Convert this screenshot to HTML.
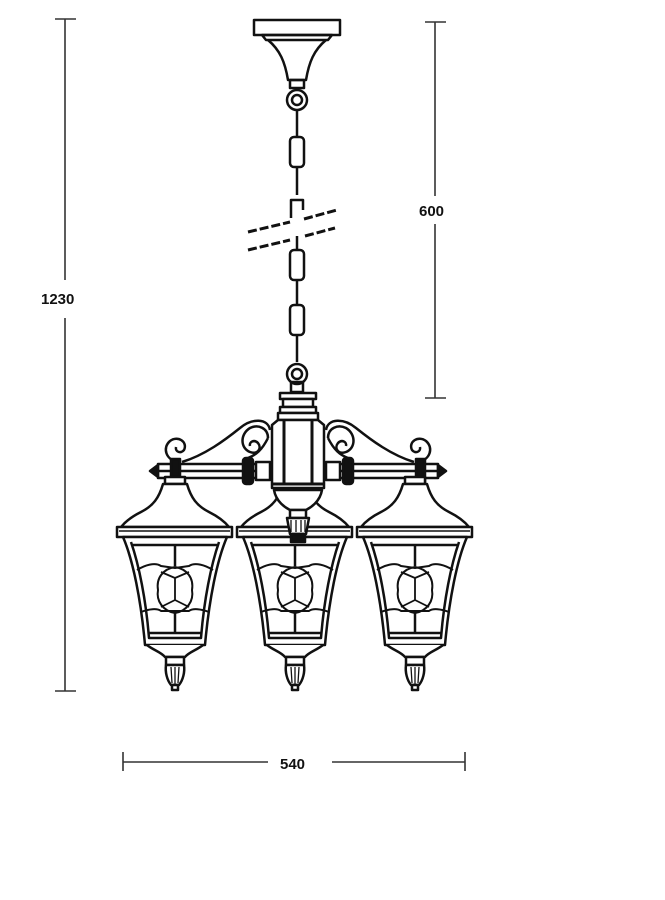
<!DOCTYPE html>
<html><head><meta charset="utf-8"><style>
html,body{margin:0;padding:0;background:#fff;}
svg{display:block}
text{font-family:"Liberation Sans",sans-serif;font-weight:bold;font-size:15px;fill:#111}
</style></head><body>
<svg width="665" height="900" viewBox="0 0 665 900" xmlns="http://www.w3.org/2000/svg">
<defs>
<g id="lan" fill="none" stroke="#111" stroke-width="2.5" stroke-linejoin="round">
  <rect x="-10" y="477" width="20" height="7" fill="#fff"/>
  <path d="M-12 484 C-16 498 -22 506 -34 512 C-44 517 -50 522 -54 527 L54 527 C50 522 44 517 34 512 C22 506 16 498 12 484 Z" fill="#fff"/>
  <rect x="-58" y="527" width="115" height="10" fill="#fff"/>
  <line x1="-56" y1="531" x2="55" y2="531" stroke-width="1.4"/>
  <path d="M-52 537 C-42 560 -34 600 -30 645 L30 645 C34 600 42 560 52 537 Z" fill="#fff"/>
  <path d="M-44 542 C-36 565 -29 600 -26 638 L26 638 C29 600 36 565 44 542"/>
  <line x1="-42" y1="545" x2="42" y2="545"/>
  <line x1="-26" y1="633" x2="26" y2="633"/>
  <line x1="0" y1="545" x2="0" y2="566"/>
  <path d="M-38 570 C-30 565 -20 562 -14 566 L0 568 L14 566 C20 562 30 565 38 570" stroke-width="2"/>
  <path d="M-34 612 C-26 609 -18 608 -14 611 L14 611 C18 608 26 609 34 612" stroke-width="2"/>
  <path d="M0 567 C-12 569 -19 578 -17 590 C-19 601 -12 611 0 613 C12 611 19 601 17 590 C19 578 12 569 0 567 Z" stroke-width="2"/>
  <path d="M0 578 L-14 572 M0 578 L14 572 M0 578 L0 600 L-14 607 M0 600 L14 607" stroke-width="1.8"/>
  <line x1="0" y1="613" x2="0" y2="633"/>
  <path d="M-28 645 C-22 650 -14 652 -10 657 L10 657 C14 652 22 650 28 645" fill="#fff"/>
  <rect x="-9" y="657" width="18" height="8" fill="#fff"/>
  <path d="M-9 665 C-10 672 -8 680 -4 685 L4 685 C8 680 10 672 9 665 Z" fill="#fff"/>
  <path d="M-4 667 L-3 683 M0 667 L0 684 M4 667 L3 683" stroke-width="1.3"/>
  <rect x="-3" y="685" width="6" height="5" fill="#fff"/>
</g>
</defs>

<g stroke="#333" stroke-width="1.6" fill="none">
  <line x1="55" y1="19" x2="76" y2="19"/>
  <line x1="65" y1="19" x2="65" y2="280"/>
  <line x1="65" y1="318" x2="65" y2="691"/>
  <line x1="55" y1="691" x2="76" y2="691"/>
  <line x1="425" y1="22" x2="446" y2="22"/>
  <line x1="435" y1="22" x2="435" y2="196"/>
  <line x1="435" y1="224" x2="435" y2="398"/>
  <line x1="425" y1="398" x2="446" y2="398"/>
  <line x1="123" y1="752" x2="123" y2="771"/>
  <line x1="123" y1="762" x2="268" y2="762"/>
  <line x1="332" y1="762" x2="465" y2="762"/>
  <line x1="465" y1="752" x2="465" y2="771"/>
</g>
<text x="41" y="304">1230</text>
<text x="419" y="216">600</text>
<text x="280" y="769">540</text>

<g fill="none" stroke="#111" stroke-width="2.5" stroke-linejoin="round">
  <rect x="254" y="20" width="86" height="15" fill="#fff"/>
  <path d="M262 35 L332 35 L328 40 L266 40 Z"/>
  <path d="M268 40 C280 50 285 62 288 80 L306 80 C309 62 314 50 326 40"/>
  <rect x="290" y="80" width="14" height="8"/>
  <circle cx="297" cy="100" r="10"/>
  <circle cx="297" cy="100" r="5"/>
  <line x1="297" y1="110" x2="297" y2="137"/>
  <rect x="290" y="137" width="14" height="30" rx="4"/>
  <line x1="297" y1="167" x2="297" y2="195"/>
  <path d="M291 218 L291 200 L303 200 L303 210"/>
  <path d="M297 236 L297 250"/>
  <rect x="290" y="250" width="14" height="30" rx="4"/>
  <line x1="297" y1="280" x2="297" y2="305"/>
  <rect x="290" y="305" width="14" height="30" rx="4"/>
  <line x1="297" y1="335" x2="297" y2="362"/>
  <circle cx="297" cy="374" r="10"/>
  <circle cx="297" cy="374" r="5"/>
  <rect x="291" y="382" width="12" height="10"/>
  <path d="M248 232 L290 222 M304 219 L337 210" stroke-width="3" stroke-dasharray="9 3"/>
  <path d="M248 250 L290 240 M305 236 L335 228" stroke-width="3" stroke-dasharray="9 3"/>
  <rect x="280" y="393" width="36" height="6" fill="#fff"/>
  <rect x="283" y="399" width="30" height="8" fill="#fff"/>
  <rect x="280" y="407" width="36" height="6" fill="#fff"/>
  <rect x="278" y="413" width="40" height="7" fill="#fff"/>
</g>

<g fill="none" stroke="#111" stroke-width="2.5" stroke-linejoin="round">
  <rect x="158" y="464" width="280" height="14" fill="#fff"/>
  <line x1="158" y1="471" x2="438" y2="471"/>
  <path d="M150 471 L158 465 L158 477 Z" fill="#111"/>
  <path d="M446 471 L438 465 L438 477 Z" fill="#111"/>
  <path d="M178 462 C166 460 162 448 170 441 C178 435 188 442 184 450 C181 454 175 452 176 447"/>
  <path d="M182 462 C205 455 225 440 240 428 C252 418 268 418 270 430"/>
  <path d="M268 438 C268 428 258 424 250 428 C240 434 240 448 250 452 C258 455 262 448 258 443 C254 439 249 442 250 446"/>
  <path d="M268 438 C262 450 256 455 248 458"/>
  <path d="M418 462 C430 460 434 448 426 441 C418 435 408 442 412 450 C415 454 421 452 420 447"/>
  <path d="M414 462 C391 455 371 440 356 428 C344 418 328 418 326 430"/>
  <path d="M328 438 C328 428 338 424 346 428 C356 434 356 448 346 452 C338 455 334 448 338 443 C342 439 347 442 346 446"/>
  <path d="M328 438 C334 450 340 455 348 458"/>
  <rect x="171" y="459" width="9" height="23" fill="#111"/>
  <rect x="416" y="459" width="9" height="23" fill="#111"/>
  <rect x="243" y="458" width="10" height="26" rx="3" fill="#111"/>
  <rect x="343" y="458" width="10" height="26" rx="3" fill="#111"/>
  <rect x="256" y="462" width="14" height="18" fill="#fff"/>
  <rect x="326" y="462" width="14" height="18" fill="#fff"/>
</g>

<use href="#lan" transform="translate(175,0)"/>
<use href="#lan" transform="translate(415,0)"/>
<use href="#lan" transform="translate(295,0)"/>

<g fill="none" stroke="#111" stroke-width="2.5" stroke-linejoin="round">
  <path d="M272 425 L278 420 L318 420 L324 425 L324 488 L272 488 Z" fill="#fff"/>
  <line x1="284" y1="421" x2="284" y2="484" stroke-width="3"/>
  <line x1="312" y1="421" x2="312" y2="484" stroke-width="3"/>
  <line x1="272" y1="484" x2="324" y2="484" stroke-width="3"/>
  <path d="M274 490 C276 502 286 508 290 510 L306 510 C310 508 320 502 322 490 Z" fill="#fff"/>
  <rect x="290" y="510" width="16" height="8" fill="#fff"/>
  <path d="M287 518 L309 518 L306 534 L290 534 Z" fill="#fff"/>
  <path d="M291 520 L291 532 M296 520 L296 532 M301 520 L301 532 M305 520 L305 532" stroke-width="1.3"/>
  <rect x="291" y="534" width="14" height="8" fill="#111"/>
</g>
</svg>
</body></html>
